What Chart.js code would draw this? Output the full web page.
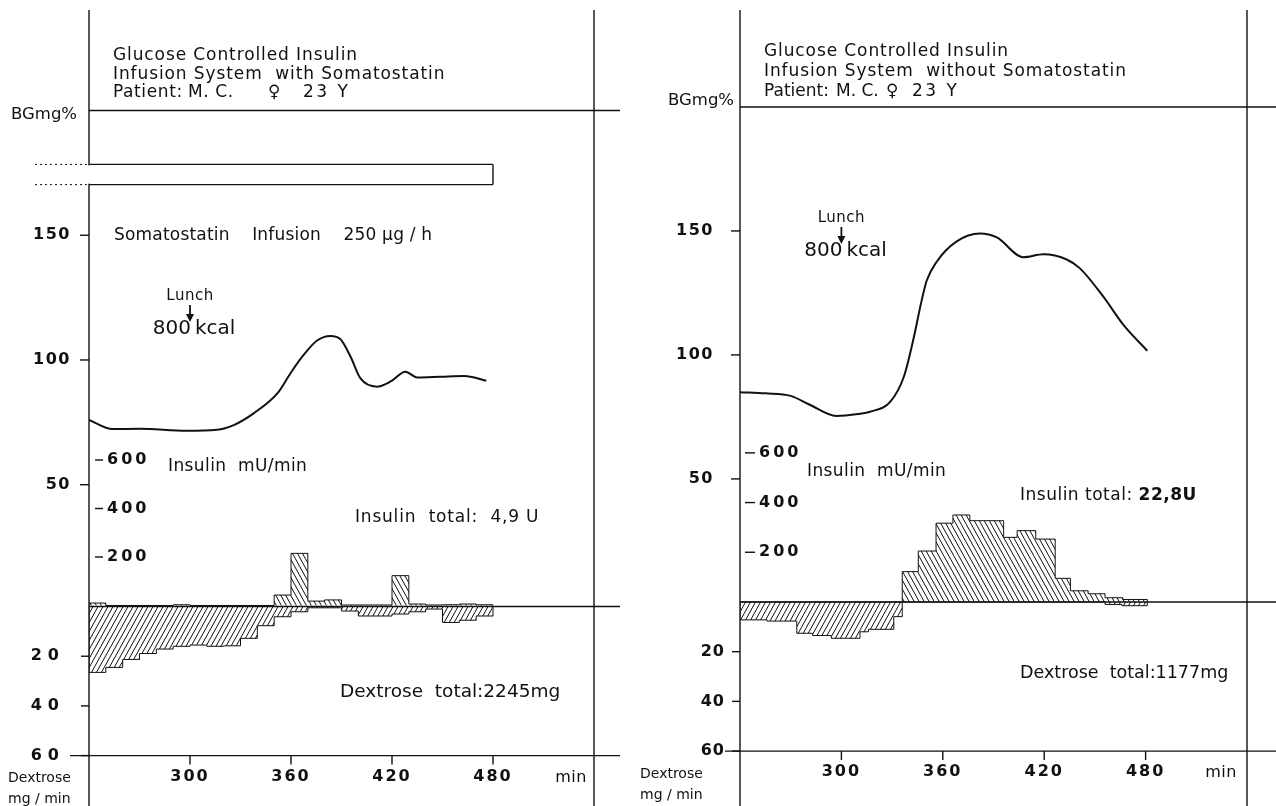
<!DOCTYPE html>
<html>
<head>
<meta charset="utf-8">
<script src="https://cdn.jsdelivr.net/npm/chart.js@4.4.0/dist/chart.umd.min.js"></script>
<style>
  html, body { margin: 0; padding: 0; background: #fff; }
  #wrap { position: relative; width: 1276px; height: 806px; overflow: hidden; }
  #c1 { position: absolute; left: 0; top: 0; }
  #c2 { position: absolute; left: 640px; top: 0; }
</style>
</head>
<body>
<div id="wrap">
  <canvas id="c1" width="640" height="806"></canvas>
  <canvas id="c2" width="636" height="806"></canvas>
</div>
<script>
// ── Data ──────────────────────────────────────────────────────────────────────

const xTicks   = [300, 360, 420, 480];
const bgTicks  = [50, 100, 150];
const insTicks = [200, 400, 600];
const dexTicks = [20, 40, 60];
const lunchTime = 300;

// with somatostatin (left)
const bgTimeL = [240, 254, 270, 298, 316, 326, 338, 352, 360, 367.5, 375.5, 383.5, 389.4, 395.4, 401.3, 411, 419, 428, 435, 449, 463, 476];
const bgValL  = [76, 72.3, 72.4, 71.6, 72, 73.9, 78.7, 86.7, 95, 102, 107.8, 109.6, 108.3, 101.3, 92.6, 89.3, 91.3, 95.3, 93, 93.3, 93.6, 91.7];
const insTimeL = [240, 250, 290, 300, 350, 360, 370, 380, 390, 420, 430, 440, 450, 460, 470, 480];
const insValL  = [10, 0, 3, 0, 43, 215, 18, 23, 2, 123, 6, 2, 3, 6, 3, 0];
const dexTimeL = [240, 250, 260, 270, 280, 290, 300, 310, 320, 330, 340, 350, 360, 370, 390, 400, 420, 430, 440, 450, 460, 470, 480];
const dexValL  = [26.5, 24.5, 21.3, 18.9, 17.1, 16, 15.5, 16, 15.8, 12.8, 7.7, 4.1, 2.1, 0.5, 1.8, 3.8, 3, 2.1, 1, 6.4, 5.5, 3.8, 0];
const somaTime = [240, 480];
const somaBand = [170.3, 178.4];   // BG mg% levels of the infusion bar edges

// without somatostatin (right)
const bgTimeR = [240, 255, 270, 281, 297, 310, 317, 329, 337, 342.5, 347.5, 350.5, 356.4, 368, 382, 392, 407.6, 419.5, 433, 441, 455, 467, 481];
const bgValR  = [85, 84.5, 83.5, 80, 75.4, 76.2, 77.1, 81.2, 91.3, 106, 122, 130, 137.6, 145.7, 149, 147.4, 139.4, 140.6, 138.6, 135, 123.5, 112, 101.7];
const insTimeR = [240, 336, 345.5, 356, 366, 376, 396, 404, 415, 426.5, 435.5, 446, 456, 466.5, 481];
const insValR  = [0, 122, 205, 317, 350, 327, 260, 287, 253, 95, 45, 33, 17, 10, 0];
const dexTimeR = [240, 256, 273.6, 283, 294, 311, 316, 331, 336, 456, 466, 481];
const dexValR  = [7.2, 7.7, 12.6, 13.5, 14.6, 12, 11, 5.9, 0, 1, 1.5, 0];

// ── Helpers ───────────────────────────────────────────────────────────────────

const ink  = '#111';
const face = "'DejaVu Sans', sans-serif";

function hatch(dir) {
  const w = 5, h = 9;
  const c = document.createElement('canvas'); c.width = w; c.height = h;
  const g = c.getContext('2d');
  g.strokeStyle = ink; g.lineWidth = 1;
  g.beginPath();
  if (dir > 0) {            // "////"
    g.moveTo(0, h); g.lineTo(w, 0);
    g.moveTo(-w, h); g.lineTo(0, 0); g.moveTo(w, h); g.lineTo(2*w, 0);
  } else {                  // "\\\\"
    g.moveTo(0, 0); g.lineTo(w, h);
    g.moveTo(-w, 0); g.lineTo(0, h); g.moveTo(w, 0); g.lineTo(2*w, h);
  }
  g.stroke();
  return g.createPattern(c, 'repeat');
}

const pts = (ts, vs) => ts.map((t, i) => ({x: t, y: vs[i]}));

function stepSet(ts, vs, axis, fill) {
  return {type: 'line', data: [{x: ts[0], y: 0}].concat(pts(ts, vs)), yAxisID: axis,
    stepped: true, fill: 'origin', backgroundColor: fill, borderColor: ink,
    borderWidth: 1, pointRadius: 0};
}

function bgSet(ts, vs) {
  return {type: 'line', data: pts(ts, vs), yAxisID: 'y', borderColor: ink, borderWidth: 2,
    pointRadius: 0, fill: false, cubicInterpolationMode: 'monotone'};
}

function txt(ctx, s, x, y, font, align, spacing) {
  ctx.font = font;
  ctx.textAlign = align || 'left';
  ctx.letterSpacing = (spacing || 0) + 'px';
  ctx.fillText(s, x, y);
  return ctx.measureText(s).width;
}

function seg(ctx, x1, y1, x2, y2) {
  ctx.beginPath(); ctx.moveTo(x1, y1); ctx.lineTo(x2, y2); ctx.stroke();
}

// ── Panel decoration (axes, ticks, texts) ─────────────────────────────────────

function decor(p) {
  return {
    id: 'decor',
    afterDraw(chart) {
      const {ctx, chartArea: a, scales: {x, y, yI, yD}} = chart;
      ctx.save();
      ctx.strokeStyle = ink; ctx.fillStyle = ink; ctx.lineWidth = 1.4;
      ctx.textBaseline = 'middle';
      const yTop = y.getPixelForValue(200), y0 = yD.getPixelForValue(0), y60 = yD.getPixelForValue(60);

      seg(ctx, a.left, a.top, a.left, a.bottom);
      seg(ctx, a.right, a.top, a.right, a.bottom);
      seg(ctx, a.left, yTop, p.lineEnd, yTop);
      seg(ctx, a.left, y0, p.lineEnd, y0);
      seg(ctx, p.sixtyFrom, y60, p.lineEnd, y60);

      // BG scale
      txt(ctx, 'BGmg%', p.bgUnitX, yTop + p.bgUnitDy, '16.5px ' + face, 'left', 0);
      bgTicks.forEach(v => {
        const py = y.getPixelForValue(v);
        seg(ctx, a.left - 9, py, a.left, py);
        txt(ctx, String(v), a.left - p.bgLabelGap, py, 'bold 16px ' + face, 'right', 1.5);
      });
      // insulin scale
      insTicks.forEach(v => {
        const py = yI.getPixelForValue(v);
        seg(ctx, a.left + p.insDash[0], py, a.left + p.insDash[1], py);
        txt(ctx, String(v), a.left + p.insDash[1] + 4, py, 'bold 16px ' + face, 'left', 3);
      });
      // dextrose scale
      dexTicks.forEach(v => {
        const py = yD.getPixelForValue(v);
        seg(ctx, a.left - 8, py, a.left, py);
        txt(ctx, String(v), a.left - p.dexLabelGap, py, 'bold 16px ' + face, 'right', p.dexSpacing);
      });
      // time axis
      xTicks.forEach(v => {
        const px = x.getPixelForValue(v);
        seg(ctx, px, y60, px, y60 + 9);
        txt(ctx, String(v), px, y60 + 21, 'bold 16px ' + face, 'center', 2);
      });
      txt(ctx, 'min', p.minX, y60 + 22, '16px ' + face, 'center', 0.5);
      txt(ctx, 'Dextrose', p.dexUnitX, y60 + 23, '14px ' + face, 'left', 0);
      txt(ctx, 'mg / min', p.dexUnitX, y60 + 44, '14px ' + face, 'left', 0);

      // title block
      const tf = '17px ' + face;
      txt(ctx, 'Glucose Controlled Insulin', p.titleX, p.titleY[0], tf, 'left', 0.9);
      txt(ctx, p.title2, p.titleX, p.titleY[1], tf, 'left', 0.9);
      ['Patient:', 'M. C.', '\u2640', '23 Y'].forEach((s, i) =>
        txt(ctx, s, p.titleX + p.patientDx[i], p.titleY[2], tf, 'left', i === 3 ? 2.5 : p.patientSp));

      // lunch marker
      const lx = x.getPixelForValue(lunchTime);
      txt(ctx, 'Lunch', lx, p.lunchY, '15px ' + face, 'center', 0.5);
      ctx.lineWidth = 1.8;
      seg(ctx, lx, p.lunchY + 9, lx, p.lunchY + 20);
      ctx.beginPath(); ctx.moveTo(lx - 4, p.lunchY + 18); ctx.lineTo(lx, p.lunchY + 26); ctx.lineTo(lx + 4, p.lunchY + 18); ctx.closePath(); ctx.fill();
      ctx.lineWidth = 1.4;
      txt(ctx, '800', lx + 1, p.lunchY + 33, '20px ' + face, 'right', 0);
      txt(ctx, 'kcal', lx + 5, p.lunchY + 33, '20px ' + face, 'left', 0);

      // insulin / dextrose captions
      txt(ctx, 'Insulin  mU/min', p.insCap[0], p.insCap[1], '17px ' + face, 'left', 0.4);
      const w = txt(ctx, p.insPre, p.insTot[0], p.insTot[1], '17px ' + face, 'left', p.insSpacing);
      txt(ctx, p.insTotal, p.insTot[0] + w, p.insTot[1], p.insTotFont + ' 17px ' + face, 'left', p.insSpacing);
      txt(ctx, 'Dextrose  total:' + p.dexTotal, p.dexTot[0], p.dexTot[1], p.dexTotSize + 'px ' + face, 'left', 0);

      if (p.soma) {
        const xe = x.getPixelForValue(somaTime[1]);
        const yt = y.getPixelForValue(somaBand[1]), yb = y.getPixelForValue(somaBand[0]);
        ctx.fillStyle = '#fff'; ctx.fillRect(a.left - 2, yt + 1, 4, yb - yt - 2); ctx.fillStyle = ink;
        seg(ctx, a.left, yt, xe, yt); seg(ctx, xe, yt, xe, yb); seg(ctx, a.left, yb, xe, yb);
        ctx.setLineDash([2, 3]); ctx.lineWidth = 1;
        seg(ctx, 35, yt, a.left, yt); seg(ctx, 35, yb, a.left, yb);
        ctx.setLineDash([]);
        txt(ctx, 'Somatostatin    Infusion    250 \u00b5g / h', 114, y.getPixelForValue(150), '17px ' + face, 'left', 0.2);
      }
      ctx.restore();
    }
  };
}

function makePanel(id, bg, ins, dex, pad, ranges, p) {
  new Chart(document.getElementById(id), {
    data: {datasets: [
      stepSet(dex[0], dex[1], 'yD', hatch(1)),
      stepSet(ins[0], ins[1], 'yI', hatch(-1)),
      bgSet(bg[0], bg[1])
    ]},
    options: {
      responsive: false, animation: false, devicePixelRatio: 1,
      layout: {padding: pad},
      plugins: {legend: {display: false}, tooltip: {enabled: false}},
      scales: {
        x:  {type: 'linear', min: 240, max: 540, display: false},
        y:  {type: 'linear', min: ranges.y[0], max: ranges.y[1], display: false},
        yI: {type: 'linear', min: ranges.yI[0], max: ranges.yI[1], display: false},
        yD: {type: 'linear', min: ranges.yD[0], max: ranges.yD[1], reverse: true, display: false}
      }
    },
    plugins: [decor(p)]
  });
}

makePanel('c1', [bgTimeL, bgValL], [insTimeL, insValL], [dexTimeL, dexValL],
  {left: 89, right: 46, top: 10, bottom: 0},
  {y: [-78.8, 240.3], yI: [-827, 2456], yD: [-240.2, 80.3]},
  {lineEnd: 620, sixtyFrom: 70, bgUnitX: 11, bgUnitDy: 4, bgLabelGap: 18, insDash: [6, 14], dexLabelGap: 24, dexSpacing: 6,
   minX: 571, dexUnitX: 8, titleX: 113, titleY: [56, 75, 93], patientDx: [0, 75, 155, 190], patientSp: 0.6,
   title2: 'Infusion System  with Somatostatin',
   lunchY: 296, insCap: [168, 467], insTot: [355, 518], insPre: 'Insulin  total:  ', insTotal: '4,9 U', insTotFont: '', insSpacing: 0.8,
   dexTot: [340, 692], dexTotSize: 18.5, dexTotal: '2245mg', soma: true});

makePanel('c2', [bgTimeR, bgValR], [insTimeR, insValR], [dexTimeR, dexValR],
  {left: 100, right: 29, top: 10, bottom: 0},
  {y: [-81.9, 239.1], yI: [-821, 2382], yD: [-238.2, 82.1]},
  {lineEnd: 636, sixtyFrom: 85, bgUnitX: 28, bgUnitDy: -6, bgLabelGap: 26, insDash: [5, 15], dexLabelGap: 15, dexSpacing: 1,
   minX: 581, dexUnitX: 0, titleX: 124, titleY: [52, 72, 92], patientDx: [0, 72, 122, 148], patientSp: 0,
   title2: 'Infusion System  without Somatostatin',
   lunchY: 218, insCap: [167, 472], insTot: [380, 496], insPre: 'Insulin total: ', insTotal: '22,8U', insTotFont: 'bold', insSpacing: 0.5,
   dexTot: [380, 673], dexTotSize: 17.5, dexTotal: '1177mg', soma: false});
</script>
</body>
</html>
